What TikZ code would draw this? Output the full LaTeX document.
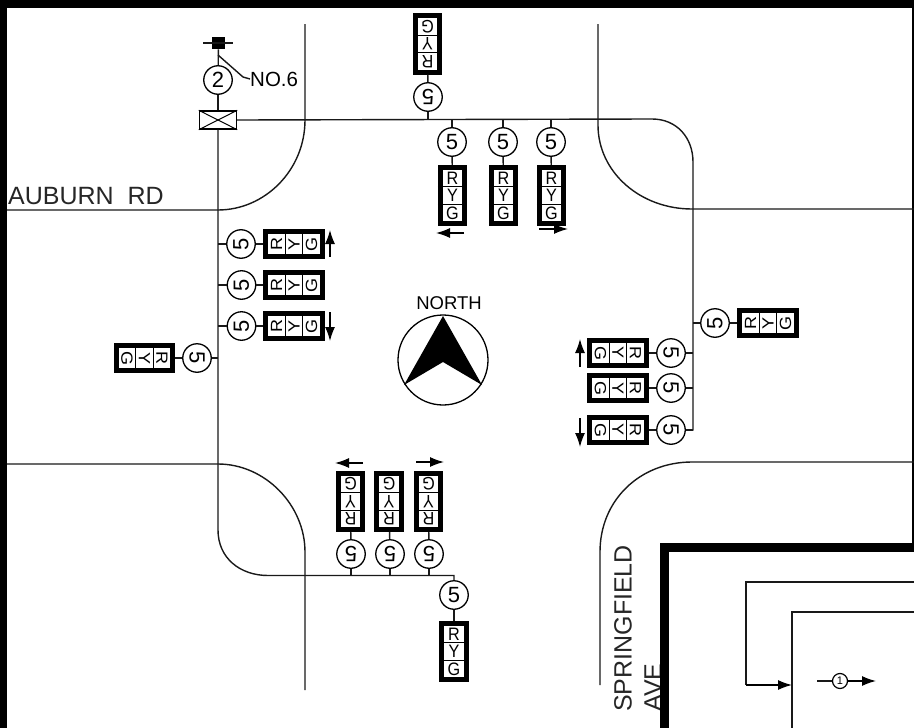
\documentclass[tikz,border=0pt]{standalone}
\usepackage{fontspec}
\setmainfont{Liberation Sans}
\usetikzlibrary{calc}
\usetikzlibrary{arrows.meta}
\tikzset{
  wire/.style={line width=1.4pt,black!90},
  tipline/.style={line width=1.3pt,-{Latex[length=14pt,width=10pt]}},
  headbox/.style={draw,line width=4.8pt,minimum width=24.5pt,minimum height=56.5pt,inner sep=0pt},
  headtxt/.style={inner sep=0pt,font=\fontsize{18}{18}\selectfont,xscale=.9,transform shape},
  ball/.style={draw,circle,line width=1.3pt,minimum size=28.5pt,inner sep=0pt,fill=white,font=\fontsize{22}{22}\selectfont},
  roadtxt/.style={inner sep=0pt,font=\fontsize{25}{25}\selectfont,black!85},
}
% signal head: name, place, turn
\newcommand{\sighead}[3]{
  \node (#1) [headbox,rotate=#3] at (#2) {};
  \node (#1r) [headtxt,rotate=#3] at ($(#1.north)!.215!(#1.south)$) {R};
  \node (#1y) [headtxt,rotate=#3] at (#1.center) {Y};
  \node (#1g) [headtxt,rotate=#3] at ($(#1.north)!.785!(#1.south)$) {G};
  \draw[line width=1pt] ($(#1.north west)!.36!(#1.south west)$) -- ($(#1.north east)!.36!(#1.south east)$);
  \draw[line width=1pt] ($(#1.north west)!.64!(#1.south west)$) -- ($(#1.north east)!.64!(#1.south east)$);
}
\begin{document}
\begin{tikzpicture}[x=1pt,y=-1pt]
  \useasboundingbox (0,0) rectangle (914,728);
  % sheet edges
  \fill (0,0) rectangle (914,8);
  \fill (0,0) rectangle (7,728);
  \fill (912,0) rectangle (914,547);
  % kerbs
  \draw[wire] (305,24) -- (305,120) .. controls (305,170) and (265,210) .. (218,210) -- (7,210);
  \draw[wire] (598,24) -- (598,125) .. controls (598,172) and (640,209) .. (692,209) -- (914,209);
  \draw[wire] (7,464) -- (218,464) .. controls (265,464) and (305,505) .. (305,552) -- (305,690);
  \draw[wire] (914,462) -- (692,462) .. controls (640,462) and (600,500) .. (600,552) -- (600,685);
  % street names
  \node (auburn) [roadtxt,anchor=west] at (8,196) {AUBURN\ \ RD};
  \node (springfield) [roadtxt,rotate=90,anchor=west] at (623,712) {SPRINGFIELD};
  \node (ave) [roadtxt,rotate=90,anchor=west] at (653,712) {AVE};
  % pole and cabinet
  \node (pole) [fill,minimum size=12.5pt,inner sep=0pt] at (218.5,43) {};
  \coordinate (tickl) at (203,43);
  \coordinate (tickr) at (233,43);
  \draw[wire] (tickl) -- (tickr);
  \node (feed) [ball] at (218,80) {2};
  \node (cab) [draw,line width=1.4pt,minimum width=37pt,minimum height=18pt,inner sep=0pt] at (218,120) {};
  \draw[line width=1pt] (cab.north west) -- (cab.south east);
  \draw[line width=1pt] (cab.south west) -- (cab.north east);
  \draw[wire] (pole) -- (feed);
  \draw[wire] (feed) -- (cab);
  \node (no6) [inner sep=0pt,anchor=west,font=\fontsize{20.5}{20.5}\selectfont] at (250,79) {NO.6};
  \coordinate (leader) at (218,55);
  \draw[wire] (leader) -- (243,77) -- (no6.west);
  % span wires
  \draw[wire] (cab.east) -- (652,119) .. controls (677,119) and (693,138) .. (693,162) -- (693,430) -- (686,430);
  \draw[wire] (cab.south) -- (218,530) .. controls (218,558) and (240,575.5) .. (268,575.5) -- (454,575.5) -- (454,580);
  % compass
  \node (north) [inner sep=0pt,font=\fontsize{18.5}{18.5}\selectfont] at (449,303) {NORTH};
  \node (dial) [draw,circle,line width=1.3pt,minimum size=90pt,inner sep=0pt] at (443,360) {};
  \fill (443,316) -- (404,385) -- (443,362) -- (482,385) -- cycle;
  % top heads
  \sighead{hn}{427.5,44}{180}
  \node (cn) [ball,rotate=180] at (428,97) {5};
  \draw[wire] (hn) -- (cn);
  \draw[wire] (cn) -- (428,119);
  \sighead{ha}{452.5,195.5}{0}
  \sighead{hb}{503.5,195.5}{0}
  \sighead{hc}{551.5,195.5}{0}
  \node (ca) [ball] at (452,142) {5};
  \node (cb) [ball] at (503,142) {5};
  \node (cc) [ball] at (551,142) {5};
  \foreach \n in {a,b,c} {
    \draw[wire] (c\n) -- (h\n);
    \draw[wire] (c\n.north) -- (c\n.north |- 0,119);
  }
  \coordinate (ael) at (464,233);
  \coordinate (aer) at (436,233);
  \draw[tipline] (ael) -- (aer);
  \coordinate (cel) at (539,229);
  \coordinate (cer) at (568,229);
  \draw[tipline] (cel) -- (cer);
  % left heads
  \sighead{hd}{294,244}{90}
  \sighead{he}{294,285}{90}
  \sighead{hf}{294,326}{90}
  \node (cd) [ball,rotate=90] at (241,244) {5};
  \node (ce) [ball,rotate=90] at (241.5,285) {5};
  \node (cf) [ball,rotate=90] at (241.5,326) {5};
  \foreach \n in {d,e,f} {
    \draw[wire] (c\n) -- (h\n);
    \draw[wire] (c\n) -- (c\n -| 218,0);
  }
  \coordinate (ads) at (330,257);
  \coordinate (adt) at (330,230);
  \draw[tipline] (ads) -- (adt);
  \coordinate (afs) at (330,312);
  \coordinate (aft) at (330,341);
  \draw[tipline] (afs) -- (aft);
  \sighead{hg}{144.5,358}{-90}
  \node (cg) [ball,rotate=-90] at (197,358) {5};
  \draw[wire] (hg) -- (cg);
  \draw[wire] (cg) -- (218,358);
  % right heads
  \sighead{hh}{768,323}{90}
  \node (ch) [ball,rotate=90] at (715,323) {5};
  \draw[wire] (ch) -- (hh);
  \draw[wire] (ch) -- (693,323);
  \sighead{hi}{618,353}{-90}
  \sighead{hj}{618,388}{-90}
  \sighead{hk}{618,430}{-90}
  \node (ci) [ball,rotate=-90] at (671,353) {5};
  \node (cj) [ball,rotate=-90] at (671,388) {5};
  \node (ck) [ball,rotate=-90] at (671,430) {5};
  \foreach \n in {i,j,k} {
    \draw[wire] (c\n) -- (h\n);
    \draw[wire] (c\n) -- (c\n -| 693,0);
  }
  \coordinate (ais) at (580,367);
  \coordinate (ait) at (580,339);
  \draw[tipline] (ais) -- (ait);
  \coordinate (aks) at (580,418);
  \coordinate (akt) at (580,447);
  \draw[tipline] (aks) -- (akt);
  % bottom heads
  \sighead{hl}{350.5,501.5}{180}
  \sighead{hm}{389,501.5}{180}
  \sighead{ho}{428.5,501.5}{180}
  \node (cl) [ball,rotate=180] at (351,554) {5};
  \node (cm) [ball,rotate=180] at (390,554) {5};
  \node (co) [ball,rotate=180] at (429,554) {5};
  \foreach \n in {l,m,o} {
    \draw[wire] (c\n) -- (h\n);
    \draw[wire] (c\n) -- (c\n |- 0,575.5);
  }
  \coordinate (als) at (363,463);
  \coordinate (alt) at (335,463);
  \draw[tipline] (als) -- (alt);
  \coordinate (aos) at (416,462);
  \coordinate (aot) at (444,462);
  \draw[tipline] (aos) -- (aot);
  \sighead{hp}{454,651.5}{0}
  \node (cp) [ball] at (454,595) {5};
  \draw[wire] (cp) -- (hp);
  % inset
  \fill[white] (664.5,547) rectangle (914,728);
  \draw[line width=9pt] (914,547) -- (664.5,547) -- (664.5,728);
  \coordinate (frame) at (914,582);
  \coordinate (bendt) at (746,582);
  \coordinate (bendb) at (746,685);
  \coordinate (door) at (792,685);
  \draw[wire] (frame) -- (bendt) -- (bendb);
  \draw[tipline] (bendb) -- (door);
  \draw[wire] (914,612) -- (792,612) -- (792,728);
  \coordinate (flowa) at (817,681);
  \coordinate (flowb) at (876,681);
  \node (flow) [draw,circle,line width=1.2pt,minimum size=15pt,inner sep=0pt,fill=white,font=\fontsize{11}{11}\selectfont] at (840,681) {1};
  \draw[wire] (flowa) -- (flow);
  \draw[tipline] (flow) -- (flowb);
\end{tikzpicture}
\end{document}
